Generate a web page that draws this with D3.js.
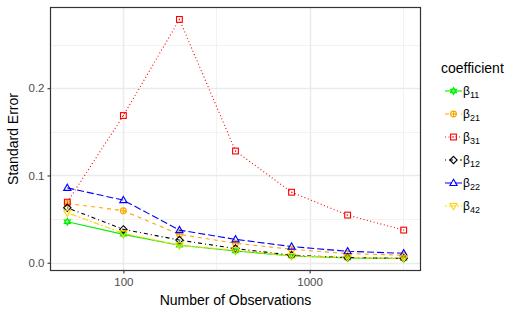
<!DOCTYPE html>
<html>
<head>
<meta charset="utf-8">
<script src="https://cdn.jsdelivr.net/npm/d3@7"></script>
<style>
  body { margin: 0; background: #fff; }
  svg { display: block; font-family: "Liberation Sans", Arial, sans-serif; }
</style>
</head>
<body>
<div class="canvas"></div>
<script>
var width = 524,
   height = 315;

// sample sizes on x
var observations = [50, 100, 200, 400, 800, 1600, 3200];

// coefficient series (standard errors)
var coefNames = ["11", "21", "31", "12", "22", "42"];
var se11 = [0.047, 0.0325, 0.020, 0.0135, 0.0078, 0.0055, 0.0048];
var se21 = [0.068, 0.0596, 0.0325, 0.0223, 0.0154, 0.0105, 0.0086];
var se31 = [0.0694, 0.1687, 0.2788, 0.128, 0.0808, 0.0546, 0.0374];
var se12 = [0.063, 0.0382, 0.026, 0.0162, 0.0086, 0.006, 0.005];
var se22 = [0.0858, 0.0717, 0.0374, 0.0268, 0.0185, 0.0131, 0.0108];
var se42 = [0.0573, 0.0337, 0.020, 0.0143, 0.0078, 0.006, 0.005];

var yTicks = [0, 0.1, 0.2];
var yMinor = [0.05, 0.15, 0.25];
var xTicks = [100, 1000];
var xMinor = [316.2278, 3162.278];

var seriesValues = [se11, se21, se31, se12, se22, se42];
var colors = ["#00ee00", "#ffa500", "#ff0000", "#000000", "#0000ff", "#ffd700"];
var dashes = [null, "4,4", "1,2.5", "1,3,4,3", "7,3", "2,2,6,2"];
var shapes = ["star", "circleplus", "squaredot", "diamond", "triangle", "triangledown"];

var series = coefNames.map((n, i) => ({
   name: n,
   color: colors[i],
   dash: dashes[i],
   shape: shapes[i],
   values: observations.map((o, j) => ({x: o, y: seriesValues[i][j]}))
}));

var panel = {left: 50.5, right: 420.5, top: 7.5, bottom: 270.5};

// ggplot-like 5% expansion
var lx0 = Math.log10(d3.min(observations)), lx1 = Math.log10(d3.max(observations));
var px = (lx1 - lx0) * 0.05;
var x = d3.scaleLog()
   .domain([Math.pow(10, lx0 - px), Math.pow(10, lx1 + px)])
   .range([panel.left, panel.right]);

var allY = d3.merge(seriesValues);
var y0 = d3.min(allY), y1 = d3.max(allY), py = (y1 - y0) * 0.05;
var y = d3.scaleLinear()
   .domain([y0 - py, y1 + py])
   .range([panel.bottom, panel.top]);

var svg = d3.select('.canvas')
   .append('svg')
   .attr('width', width)
   .attr('height', height);

svg.append('rect')
   .attr('width', width)
   .attr('height', height)
   .attr('fill', '#fff');

// grid
var grid = svg.append('g');
grid.selectAll('.ymin').data(yMinor).enter().append('line')
   .attr('x1', panel.left).attr('x2', panel.right)
   .attr('y1', d => Math.round(y(d)) + 0.5).attr('y2', d => Math.round(y(d)) + 0.5)
   .attr('stroke', '#f2f2f2').attr('stroke-width', 1);
grid.selectAll('.xmin').data(xMinor).enter().append('line')
   .attr('y1', panel.top).attr('y2', panel.bottom)
   .attr('x1', d => Math.round(x(d)) + 0.5).attr('x2', d => Math.round(x(d)) + 0.5)
   .attr('stroke', '#f2f2f2').attr('stroke-width', 1);
grid.selectAll('.ymaj').data(yTicks).enter().append('line')
   .attr('x1', panel.left).attr('x2', panel.right)
   .attr('y1', d => Math.round(y(d)) + 0.5).attr('y2', d => Math.round(y(d)) + 0.5)
   .attr('stroke', '#ebebeb').attr('stroke-width', 1.5);
grid.selectAll('.xmaj').data(xTicks).enter().append('line')
   .attr('y1', panel.top).attr('y2', panel.bottom)
   .attr('x1', d => Math.round(x(d)) + 0.5).attr('x2', d => Math.round(x(d)) + 0.5)
   .attr('stroke', '#ebebeb').attr('stroke-width', 1.5);

// lines
var line = d3.line()
   .x(d => x(d.x))
   .y(d => y(d.y));

var plot = svg.append('g');
plot.selectAll('.series').data(series).enter().append('path')
   .attr('d', d => line(d.values))
   .attr('fill', 'none')
   .attr('stroke', d => d.color)
   .attr('stroke-width', 1.1)
   .attr('stroke-dasharray', d => d.dash);

function drawShape(g, shape, color) {
   var s = g.append('g').attr('fill', 'none').attr('stroke', color).attr('stroke-width', 1.1);
   if (shape === 'star') {
      s.append('path').attr('d', 'M0,-3.4L3,1.7L-3,1.7Z');
      s.append('path').attr('d', 'M0,3.4L3,-1.7L-3,-1.7Z');
   } else if (shape === 'circleplus') {
      s.append('circle').attr('r', 2.9);
      s.append('path').attr('d', 'M-2.9,0H2.9M0,-2.9V2.9');
   } else if (shape === 'squaredot') {
      s.append('rect').attr('x', -2.9).attr('y', -2.9).attr('width', 5.8).attr('height', 5.8);
      s.append('rect').attr('x', -0.5).attr('y', -0.5).attr('width', 1).attr('height', 1)
         .attr('fill', color).attr('stroke', 'none');
   } else if (shape === 'diamond') {
      s.append('path').attr('d', 'M0,-3.7L3.7,0L0,3.7L-3.7,0Z');
   } else if (shape === 'triangle') {
      s.append('path').attr('d', 'M0,-3.7L3.6,2.5L-3.6,2.5Z');
   } else if (shape === 'triangledown') {
      s.append('path').attr('d', 'M0,3.7L3.6,-2.5L-3.6,-2.5Z');
   }
}

series.forEach(sr => {
   plot.append('g').selectAll('g').data(sr.values).enter().append('g')
      .attr('transform', d => `translate(${x(d.x)},${y(d.y)})`)
      .each(function () { drawShape(d3.select(this), sr.shape, sr.color); });
});

// panel border
svg.append('rect')
   .attr('x', panel.left).attr('y', panel.top)
   .attr('width', panel.right - panel.left).attr('height', panel.bottom - panel.top)
   .attr('fill', 'none').attr('stroke', '#333').attr('stroke-width', 1.2);

// axes
var xAxis = d3.axisBottom(x).tickValues(xTicks).tickFormat(d3.format('d')).tickSize(3).tickPadding(4);
var yAxis = d3.axisLeft(y).tickValues(yTicks).tickFormat(d3.format('.1f')).tickSize(3).tickPadding(3);

var gx = svg.append('g').attr('transform', `translate(0,${panel.bottom})`).call(xAxis);
var gy = svg.append('g').attr('transform', `translate(${panel.left},0)`).call(yAxis);
[gx, gy].forEach(g => {
   g.select('.domain').remove();
   g.selectAll('.tick line').attr('stroke', '#333').attr('stroke-width', 1.1);
   g.selectAll('.tick text').attr('fill', '#4d4d4d').style('font-size', '11.5px')
      .style('font-family', '"Liberation Sans", Arial, sans-serif');
});

svg.append('text')
   .attr('x', (panel.left + panel.right) / 2).attr('y', 305)
   .attr('text-anchor', 'middle').style('font-size', '14px').attr('fill', '#000')
   .text('Number of Observations');

svg.append('text')
   .attr('transform', `translate(18,${(panel.top + panel.bottom) / 2}) rotate(-90)`)
   .attr('text-anchor', 'middle').style('font-size', '14px').attr('fill', '#000')
   .text('Standard Error');

// legend
var legend = svg.append('g').attr('transform', 'translate(441,0)');
legend.append('text').attr('x', 0).attr('y', 73).style('font-size', '14px').text('coefficient');

var rows = legend.selectAll('.row').data(series).enter().append('g')
   .attr('transform', (d, i) => `translate(0,${91 + i * 23})`);
rows.append('line')
   .attr('x1', 4).attr('x2', 21).attr('y1', 0).attr('y2', 0)
   .attr('stroke', d => d.color).attr('stroke-width', 1.1)
   .attr('stroke-dasharray', d => d.dash);
rows.each(function (d) {
   var g = d3.select(this).append('g').attr('transform', 'translate(12.5,0)');
   drawShape(g, d.shape, d.color);
});
var lab = rows.append('text').attr('x', 22).attr('y', 4).style('font-size', '12px').attr('fill', '#000');
lab.append('tspan').text('β');
lab.append('tspan').attr('dy', 3).style('font-size', '9px').text(d => d.name);
</script>
</body>
</html>
